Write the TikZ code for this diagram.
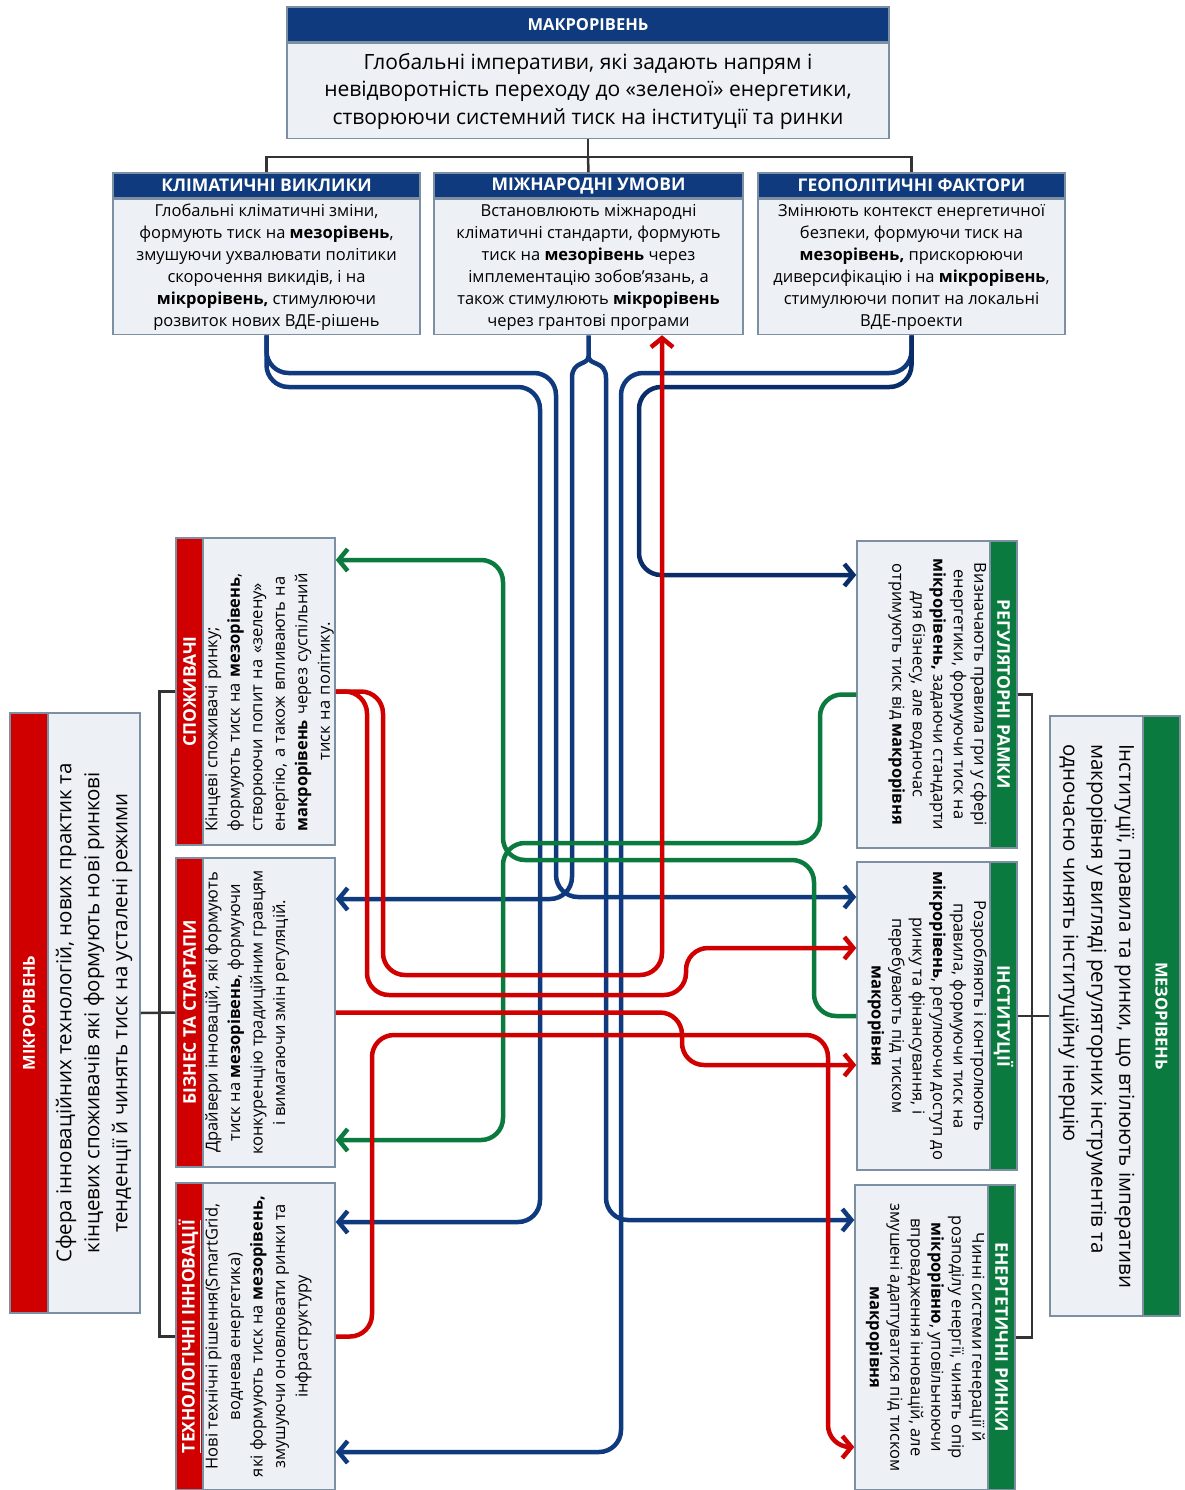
\documentclass[tikz,border=0pt]{standalone}
\usepackage{fontspec}
\setmainfont{Open Sans}
\usetikzlibrary{arrows.meta}

\definecolor{navy}{HTML}{0F3B7E}
\definecolor{navydark}{HTML}{0A2D69}
\definecolor{microred}{HTML}{D00000}
\definecolor{mesogreen}{HTML}{0A7A3E}
\definecolor{boxfill}{HTML}{EDF0F4}
\definecolor{boxline}{HTML}{7D8FA3}
\definecolor{treeline}{HTML}{333333}

\tikzset{
  bodybox/.style={draw=boxline, line width=1.5pt, fill=boxfill, inner sep=0pt, align=center},
  headbar/.style={draw=boxline, line width=1.5pt, inner sep=0pt, text=white,
    font=\fontsize{17.5}{20}\selectfont\bfseries},
  coltext/.style={inner sep=0pt, align=center, anchor=north, font=\fontsize{16.5}{22.5}\selectfont},
  rcoltext/.style={coltext, font=\fontsize{16.5}{20.5}\selectfont},
  bigtext/.style={inner sep=0pt, align=center, font=\fontsize{20.5}{28}\selectfont},
  tree/.style={draw=treeline, line width=2.5pt},
  link/.style={line width=4.5pt, rounded corners=22pt},
  linkarrow/.style={-{Straight Barb[length=9pt,width=22pt]}}
}

\begin{document}
\begin{tikzpicture}[x=1pt, y=-1pt]
\path[use as bounding box, fill=white] (0,0) rectangle (1185,1490);

% macro level
\node[headbar, fill=navy, minimum width=602pt, minimum height=35pt,
      font=\fontsize{16.5}{20}\selectfont\bfseries] (macrohead) at (588,24.5) {МАКРОРІВЕНЬ};
\node[bodybox, anchor=north, minimum width=602pt, minimum height=95pt,
      font=\fontsize{21}{27.5}\selectfont] (macro) at (macrohead.south)
  {Глобальні імперативи, які задають напрям і\\
   невідворотність переходу до «зеленої» енергетики,\\
   створюючи системний тиск на інституції та ринки};

\node[headbar, fill=navy, minimum width=307pt, minimum height=25pt] (klimhead) at (266.5,185.5) {КЛІМАТИЧНІ ВИКЛИКИ};
\node[bodybox, anchor=north, minimum width=307pt, minimum height=135pt,
      font=\fontsize{16.5}{22}\selectfont] (klim) at (klimhead.south)
  {Глобальні кліматичні зміни,\\
   формують тиск на \textbf{мезорівень},\\
   змушуючи ухвалювати політики\\
   скорочення викидів, і на\\
   \textbf{мікрорівень,} стимулюючи\\
   розвиток нових ВДЕ-рішень};

\node[headbar, fill=navy, minimum width=309pt, minimum height=25pt] (mizhhead) at (588.5,185.5) {МІЖНАРОДНІ УМОВИ};
\node[bodybox, anchor=north, minimum width=309pt, minimum height=135pt,
      font=\fontsize{16.5}{22}\selectfont] (mizh) at (mizhhead.south)
  {Встановлюють міжнародні\\
   кліматичні стандарти, формують\\
   тиск на \textbf{мезорівень} через\\
   імплементацію зобов’язань, а\\
   також стимулюють \textbf{мікрорівень}\\
   через грантові програми};

\node[headbar, fill=navy, minimum width=307pt, minimum height=25pt] (geohead) at (911.5,185.5) {ГЕОПОЛІТИЧНІ ФАКТОРИ};
\node[bodybox, anchor=north, minimum width=307pt, minimum height=135pt,
      font=\fontsize{16.5}{22}\selectfont] (geo) at (geohead.south)
  {Змінюють контекст енергетичної\\
   безпеки, формуючи тиск на\\
   \textbf{мезорівень,} прискорюючи\\
   диверсифікацію і на \textbf{мікрорівень},\\
   стимулюючи попит на локальні\\
   ВДЕ-проекти};

\coordinate (treejoint) at (588,157);
\draw[tree] (macro.south) -- (treejoint);
\draw[tree] (klimhead.north) |- (treejoint) -| (geohead.north);
\draw[tree] (treejoint) -- (mizhhead.north);

% micro level
\node[bodybox, minimum width=130pt, minimum height=600pt] (mikro) at (75,1013) {};
\node[headbar, fill=microred, rotate=90, minimum width=600pt, minimum height=38pt,
      font=\fontsize{16.5}{20}\selectfont\bfseries] (mikrohead) at (29,1013) {МІКРОРІВЕНЬ};
\node[bigtext, rotate=90] (mikrotext) at (94,1013)
  {Сфера інноваційних технологій, нових практик та\\
   кінцевих споживачів які формують нові ринкові\\
   тенденції й чинять тиск на усталені режими};

\node[bodybox, minimum width=159pt, minimum height=307pt] (spoz) at (255.5,691.5) {};
\node[headbar, fill=microred, rotate=90, minimum width=307pt, minimum height=27pt] (spozhead) at (189.5,691.5) {СПОЖИВАЧІ};
\node[coltext, rotate=90, text width=280pt, align=left] (spoztext) at (205,691.5)
  {Кінцеві споживачі ринку;\\
   формують тиск на \textbf{мезорівень},\\
   створюючи попит на «зелену»\\
   енергію, а також впливають на\\
   \textbf{макрорівень} через суспільний\\
   \hspace*{\fill}тиск на політику.\hspace*{\fill}\null};

\node[bodybox, minimum width=159pt, minimum height=309pt] (biz) at (255.5,1012.5) {};
\node[headbar, fill=microred, rotate=90, minimum width=309pt, minimum height=27pt] (bizhead) at (189.5,1012.5) {БІЗНЕС ТА СТАРТАПИ};
\node[coltext, rotate=90] (biztext) at (205,1012.5)
  {Драйвери інновацій, які формують\\
   тиск на \textbf{мезорівень}, формуючи\\
   конкуренцію традиційним гравцям\\
   і вимагаючи змін регуляцій.};

\node[bodybox, minimum width=159pt, minimum height=307pt] (tech) at (255.5,1336.5) {};
\node[headbar, fill=microred, rotate=90, minimum width=307pt, minimum height=27pt] (techhead) at (189.5,1336.5) {\underline{ТЕХНОЛОГІЧНІ ІННОВАЦІЇ}};
\node[coltext, rotate=90] (techtext) at (205,1336.5)
  {Нові технічні рішення(SmartGrid,\\
   воднева енергетика)\\
   які формують тиск на \textbf{мезорівень,}\\
   змушуючи оновлювати ринки та\\
   інфраструктуру};

\draw[tree] (spoz.west) -- ++(-16,0) |- (tech.west);
\draw[tree] (mikro.east) -- (biz.west);

% meso level
\node[bodybox, minimum width=130pt, minimum height=600pt] (mezo) at (1115,1016) {};
\node[headbar, fill=mesogreen, rotate=-90, minimum width=600pt, minimum height=37pt,
      font=\fontsize{16.5}{20}\selectfont\bfseries] (mezohead) at (1161.5,1016) {МЕЗОРІВЕНЬ};
\node[bigtext, rotate=-90, align=left] (mezotext) at (1096.5,1016)
  {Інституції, правила та ринки, що втілюють імперативи\\
   макрорівня у вигляді регуляторних інструментів та\\
   одночасно чинять інституційну інерцію};

\node[bodybox, minimum width=160pt, minimum height=307pt] (reg) at (937,694.5) {};
\node[headbar, fill=mesogreen, rotate=-90, minimum width=307pt, minimum height=27pt] (reghead) at (1003.5,694.5) {РЕГУЛЯТОРНІ РАМКИ};
\node[rcoltext, rotate=-90] (regtext) at (987,694.5)
  {Визначають правила гри у сфері\\
   енергетики, формуючи тиск на\\
   \textbf{мікрорівень,} задаючи стандарти\\
   для бізнесу, але водночас\\
   отримують тиск від \textbf{макрорівня}};

\node[bodybox, minimum width=160pt, minimum height=308pt] (inst) at (937,1016) {};
\node[headbar, fill=mesogreen, rotate=-90, minimum width=308pt, minimum height=27pt] (insthead) at (1003.5,1016) {ІНСТИТУЦІЇ};
\node[rcoltext, rotate=-90] (insttext) at (987,1016)
  {Розробляють і контролюють\\
   правила, формуючи тиск на\\
   \textbf{мікрорівень}, регулюючи доступ до\\
   ринку та фінансування, і\\
   перебувають під тиском\\
   \textbf{макрорівня}};

\node[bodybox, minimum width=160pt, minimum height=305pt] (enr) at (935,1337.5) {};
\node[headbar, fill=mesogreen, rotate=-90, minimum width=305pt, minimum height=27pt] (enrhead) at (1001.5,1337.5) {ЕНЕРГЕТИЧНІ РИНКИ};
\node[rcoltext, rotate=-90] (enrtext) at (985,1337.5)
  {Чинні системи генерації й\\
   розподілу енергії, чинять опір\\
   \textbf{мікрорівню}, уповільнюючи\\
   впровадження інновацій, але\\
   змушені адаптуватися під тиском\\
   \textbf{макрорівня}};

\draw[tree] (reg.east) -- ++(14,0) |- (enr.east);
\draw[tree] (inst.east) -- (mezo.west);

% blue: macro -> micro / meso
\coordinate (mizhsplit) at (588.5,356);
\coordinate (loopleft) at (572,400);
\coordinate (loopright) at (606,400);
\draw[line width=4.5pt, navy] (mizh.south) -- (mizhsplit)
  .. controls (588.5,366) and (572,360) .. (572,378) -- (loopleft);
\draw[line width=4.5pt, navy] (mizhsplit)
  .. controls (588.5,366) and (606,360) .. (606,378) -- (loopright);
\draw[link, navy, linkarrow] (klim.south) -- (klim.south |- 0,373) -- (556,373) -- (556,897) -- (inst.west |- 0,897);
\draw[link, navy, linkarrow] (klim.south) -- (klim.south |- 0,387) -- (540,387) -- (540,1222) -- (tech.east |- 0,1222);
\draw[link, navy, linkarrow] (loopleft) -- (572,899) -- (biz.east |- 0,899);
\draw[link, navy, linkarrow] (loopright) -- (606,1220) -- (enr.west |- 0,1220);
\draw[link, navy, linkarrow] (geo.south) -- (geo.south |- 0,373) -- (621,373) -- (621,1452) -- (tech.east |- 0,1452);
\draw[link, navydark, linkarrow] (geo.south) -- (geo.south |- 0,387) -- (639,387) -- (639,575) -- (reg.west |- 0,575);

% green: meso -> micro
\draw[link, mesogreen, linkarrow] (inst.west) -- (inst.west -| 814,0) -- (814,860) -- (503,860) -- (503,560) -- (spoz.east |- 0,560);
\draw[link, mesogreen, linkarrow] (reg.west) -- (reg.west -| 820,0) -- (820,843) -- (503,843) -- (503,1140) -- (biz.east |- 0,1140);

% red: micro -> meso / macro
\draw[link, microred, linkarrow] (spoz.east) -- (spoz.east -| 367,0) -- (367,995) -- (686,995) -- (686,948) -- (inst.west |- 0,948);
\draw[link, microred, linkarrow] (spoz.east) -- (spoz.east -| 383,0) -- (383,975) -- (662,975) -- (mizh.south -| 662,0);
\draw[link, microred, linkarrow] (biz.east) -- (biz.east -| 682,0) -- (682,1065) -- (inst.west |- 0,1065);
\draw[link, microred, linkarrow] (tech.east) -- (tech.east -| 372,0) -- (372,1035) -- (828,1035) -- (828,1447) -- (enr.west |- 0,1447);
\end{tikzpicture}
\end{document}
